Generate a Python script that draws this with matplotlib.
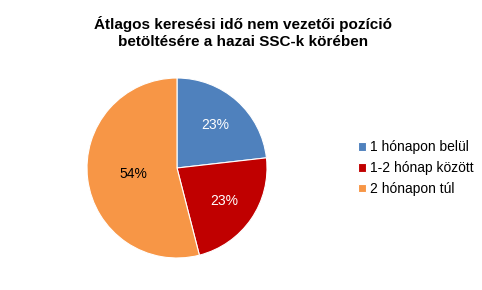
import matplotlib
matplotlib.use("Agg")
import matplotlib.pyplot as plt
import numpy as np

plt.rcParams["font.family"] = ["Liberation Sans", "DejaVu Sans"]

categories = ["1 hónapon belül", "1-2 hónap között", "2 hónapon túl"]
shares = [23.2, 22.8, 54.0]
labels = ["23%", "23%", "54%"]
colors = ["#4F81BD", "#C00000", "#F79646"]
label_colors = ["white", "white", "black"]

fig = plt.figure(figsize=(4.82, 2.90), dpi=100)
ax = fig.add_axes([87 / 482, 32 / 290, 180 / 482, 180 / 290])

wedges, _ = ax.pie(shares, colors=colors, startangle=90, counterclock=False,
                   wedgeprops=dict(edgecolor="white", linewidth=0.8))
ax.set_xlim(-1, 1)
ax.set_ylim(-1, 1)
ax.set_aspect("auto")

# Excel puts the big slice's label closer to the centre
for w, lab, c in zip(wedges, labels, label_colors):
    mid = np.deg2rad((w.theta1 + w.theta2) / 2)
    r = 0.49 if lab == "54%" else 0.64
    ax.text(r * np.cos(mid), r * np.sin(mid), lab,
            ha="center", va="center", fontsize=10, color=c)

fig.text(0.505, 0.945, "Átlagos keresési idő nem vezetői pozíció\nbetöltésére a hazai SSC-k körében",
         ha="center", va="top", fontsize=11, fontweight="bold", linespacing=1.25)

fig.legend(wedges, categories, loc="center left", bbox_to_anchor=(351 / 482, 1 - 168 / 290),
           frameon=False, fontsize=10, handlelength=0.6, handleheight=0.6,
           handletextpad=0.3, labelspacing=0.5, borderpad=0)

fig.savefig("out.png", dpi=100)
